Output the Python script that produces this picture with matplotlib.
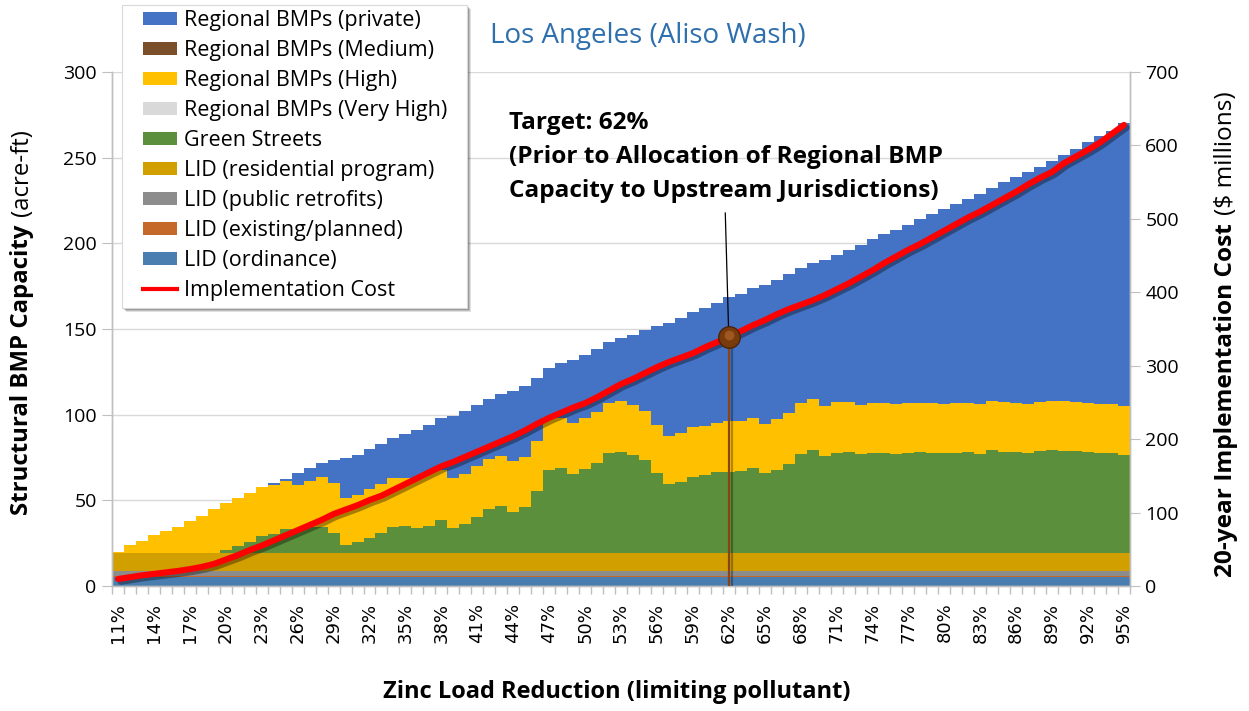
import numpy as np
import matplotlib
matplotlib.use('Agg')
import matplotlib.pyplot as plt
import matplotlib.patheffects as pe
from matplotlib.patches import Patch, Rectangle
from matplotlib.lines import Line2D

plt.rcParams.update({
    'font.family': ['Open Sans', 'DejaVu Sans'],
    'axes.linewidth': 1.0,
})

# zinc load reduction categories (11% .. 95%)
reduction = list(range(11, 96))
n = len(reduction)

# structural BMP capacity by component (acre-ft)
lid_ordinance = [5.0] * n
lid_existing = [0.9] * n
lid_public = [2.8] * n
lid_residential = [10.4] * n

green_streets = [
    0, 0, 0, 0, 0, 0, 0, 0, 0, 1.9,
    4.2, 6.8, 10.2, 11.3, 14.1, 13.6, 15.1, 15.3, 11.9, 4.6,
    6.8, 9.2, 12.1, 15.3, 15.7, 14.6, 15.9, 19.4, 14.9, 17.0,
    21.4, 25.8, 27.7, 24.3, 26.8, 36.5, 48.6, 50.0, 46.3, 49.2,
    52.9, 58.7, 59.3, 57.4, 54.4, 46.7, 40.3, 41.4, 44.7, 45.9,
    47.3, 47.7, 48.1, 49.8, 46.7, 48.8, 52.3, 57.9, 60.5, 56.9,
    58.7, 59.1, 57.9, 58.3, 58.7, 58.1, 58.3, 59.3, 58.3, 58.3,
    58.5, 59.1, 58.1, 60.3, 59.3, 59.3, 58.7, 59.5, 60.1, 59.9,
    59.7, 58.9, 58.7, 58.7, 57.5,
]
regional_very_high = [0.0] * n
regional_high = [
    0.6, 4.7, 7.2, 10.5, 13.0, 15.3, 18.6, 21.8, 25.9, 27.5,
    27.9, 28.3, 28.2, 28.6, 28.3, 26.3, 27.2, 29.0, 29.1, 27.5,
    27.2, 28.2, 28.5, 28.6, 28.2, 29.6, 30.8, 29.4, 29.1, 29.4,
    29.3, 29.3, 29.2, 29.6, 29.2, 29.3, 30.8, 29.2, 29.8, 29.6,
    29.3, 28.8, 29.4, 29.1, 28.7, 28.4, 28.2, 28.6, 28.9, 28.2,
    28.8, 29.5, 29.1, 29.0, 29.0, 29.5, 29.4, 29.6, 29.4, 29.1,
    29.4, 29.3, 28.6, 29.2, 28.8, 29.0, 29.2, 28.6, 29.2, 29.0,
    29.0, 28.8, 28.8, 28.8, 28.8, 28.6, 28.6, 28.8, 28.6, 29.0,
    28.6, 28.6, 28.6, 28.6, 28.6,
]
regional_medium = [0.0] * n
regional_private = [
    0, 0, 0, 0, 0, 0, 0, 0, 0, 0,
    0, 0, 0, 0.9, 1.0, 6.8, 7.2, 8.2, 13.4, 23.3,
    23.4, 23.4, 23.2, 23.2, 25.9, 27.5, 28.2, 30.0, 36.1, 36.4,
    36.0, 34.8, 36.0, 40.8, 41.8, 36.7, 28.6, 31.7, 36.7, 36.9,
    37.0, 35.6, 36.8, 40.9, 47.2, 57.5, 65.7, 67.1, 67.1, 69.2,
    70.2, 72.2, 74.1, 75.9, 80.9, 81.2, 81.3, 79.2, 79.3, 85.2,
    86.0, 88.6, 93.4, 95.7, 98.9, 101.8, 104.1, 107.0, 110.5, 113.4,
    116.4, 118.7, 122.8, 123.9, 128.4, 131.5, 135.1, 137.3, 140.3, 143.5,
    147.5, 152.7, 156.2, 159.3, 164.8,
]

# 20-year implementation cost ($ millions)
cost = [
    9.5, 12, 14.5, 16.5, 18.5, 20.5, 23, 26, 30, 36,
    42, 49, 55, 62, 69, 76, 83, 90, 98, 104,
    110, 117, 123, 131, 139, 147, 155, 163, 169, 176,
    183, 190, 197, 204, 212, 221, 229, 236, 243, 249,
    257, 266, 275, 282, 290, 298, 305, 311, 317, 325,
    332, 339, 347, 355, 362, 370, 377, 383, 389, 396,
    404, 412, 421, 430, 440, 449, 458, 466, 475, 484,
    493, 502, 510, 519, 528, 537, 547, 556, 564, 576,
    585, 594, 604, 616, 628,
]
target_pct = 62

# stacked bottom -> top
series = [
    ('LID (ordinance)', lid_ordinance, '#4a7db0'),
    ('LID (existing/planned)', lid_existing, '#c5692a'),
    ('LID (public retrofits)', lid_public, '#8c8c8c'),
    ('LID (residential program)', lid_residential, '#d29f00'),
    ('Green Streets', green_streets, '#5b8f3b'),
    ('Regional BMPs (Very High)', regional_very_high, '#d9d9d9'),
    ('Regional BMPs (High)', regional_high, '#ffc000'),
    ('Regional BMPs (Medium)', regional_medium, '#7b4f2a'),
    ('Regional BMPs (private)', regional_private, '#4472c4'),
]

W, H = 1249, 711
fig = plt.figure(figsize=(W / 100, H / 100), dpi=100)
ax = fig.add_axes([112 / W, 1 - 586 / H, 1018 / W, 514 / H])
x = np.arange(n)

bottom = np.zeros(n)
for name, vals, col in series:
    vals = np.asarray(vals, dtype=float)
    ax.bar(x, vals, bottom=bottom, width=1.0, color=col, linewidth=0, zorder=2)
    bottom += vals

ax.set_xlim(-0.5, n - 0.5)
ax.set_ylim(0, 300)
ax.set_yticks(np.arange(0, 301, 50))
ax.yaxis.grid(True, color='#d9d9d9', lw=1.0, zorder=0)
ax.set_axisbelow(True)

lbl_idx = x[::3]
ax.set_xticks(lbl_idx)
ax.set_xticklabels([f'{reduction[i]}%' for i in lbl_idx], rotation=90,
                   fontfamily='DejaVu Sans', fontsize=13)
ax.set_xticks(np.arange(-0.5, n, 1), minor=True)
ax.tick_params(axis='x', which='major', length=0, pad=12)
ax.tick_params(axis='x', which='minor', length=6, color='#bfbfbf', width=1)
ax.tick_params(axis='y', length=7, color='#bfbfbf', labelsize=14, pad=4)

ax.spines['top'].set_visible(False)
for s in ('left', 'right', 'bottom'):
    ax.spines[s].set_color('#bfbfbf')

# cost on secondary axis
ax2 = ax.twinx()
ax2.set_ylim(0, 700)
ax2.set_yticks(np.arange(0, 701, 100))
ax2.tick_params(axis='y', length=7, color='#bfbfbf', labelsize=14, pad=4)
ax2.spines['top'].set_visible(False)
for s in ('left', 'right', 'bottom'):
    ax2.spines[s].set_color('#bfbfbf')

ax2.plot(x, cost, color='#ff0000', lw=4.4, solid_capstyle='round', zorder=4,
         path_effects=[pe.SimpleLineShadow(offset=(2, -2), shadow_color='k', alpha=0.35),
                       pe.Normal()])

# target marker
ti = reduction.index(target_pct)
ax2.vlines(ti, 0, cost[ti], color='#8b4513', lw=1.6, zorder=3,
           path_effects=[pe.SimpleLineShadow(offset=(2, -1), alpha=0.3), pe.Normal()])
ax2.annotate('', xy=(ti, cost[ti]), xytext=(ti - 0.3, 512),
             arrowprops=dict(arrowstyle='-', color='black', lw=0.9), zorder=5)
ax2.scatter([ti], [cost[ti]], s=240, color='#7a3b0c', edgecolor='#4d2406', lw=1, zorder=6)
ax2.scatter([ti], [cost[ti] + 3], s=50, color='#b8692e', alpha=0.6, lw=0, zorder=7)

fig.text(509 / W, 1 - 111 / H,
         'Target: 62%\n(Prior to Allocation of Regional BMP\nCapacity to Upstream Jurisdictions)',
         ha='left', va='top', fontsize=17.6, fontweight='bold', linespacing=1.55)

fig.text(648 / W, 1 - 36 / H, 'Los Angeles (Aliso Wash)', ha='center', va='center',
         fontsize=20, color='#2e6fad')

fig.text(617 / W, 1 - 692 / H, 'Zinc Load Reduction (limiting pollutant)',
         ha='center', va='center', fontsize=17, fontweight='bold')

# axis titles with mixed weight
fig.canvas.draw()
r = fig.canvas.get_renderer()
yl1 = fig.text(22 / W, 1 - 515 / H, 'Structural BMP Capacity', rotation=90,
               ha='center', va='bottom', fontsize=17.3, fontweight='bold')
bb = yl1.get_window_extent(r)
fig.text(22 / W, (bb.y1 + 9) / H, '(acre-ft)', rotation=90,
         ha='center', va='bottom', fontsize=17.3)
yr1 = fig.text(1226 / W, 1 - 577 / H, '20-year Implementation Cost', rotation=90,
               ha='center', va='bottom', fontsize=17.6, fontweight='bold')
bb = yr1.get_window_extent(r)
fig.text(1226 / W, (bb.y1 + 8) / H, '($ millions)', rotation=90,
         ha='center', va='bottom', fontsize=17.6)

# legend box with soft shadow
for k, a in ((4, 0.12), (3, 0.15), (2, 0.2)):
    fig.patches.append(Rectangle((122 / W + k / W, 1 - (308 + k) / H), 345 / W, 303 / H,
                                 transform=fig.transFigure, facecolor='k', alpha=a,
                                 lw=0, zorder=4.8))
fig.patches.append(Rectangle((122 / W, 1 - 308 / H), 345 / W, 303 / H,
                             transform=fig.transFigure, facecolor='white',
                             edgecolor='#d9d9d9', lw=0.8, zorder=4.9))

handles = [Patch(facecolor=c, edgecolor='none', label=nm) for nm, _, c in series[::-1]]
handles.append(Line2D([0], [0], color='#ff0000', lw=3, label='Implementation Cost'))
leg = fig.legend(handles=handles, loc='upper left', bbox_to_anchor=(143 / W, 1 - 10 / H),
                 fontsize=15.5, frameon=False, handlelength=1.6, handleheight=0.55,
                 handletextpad=0.3, labelspacing=0.42, borderpad=0, borderaxespad=0)
leg.set_zorder(5)

fig.savefig('out.png', dpi=100)
